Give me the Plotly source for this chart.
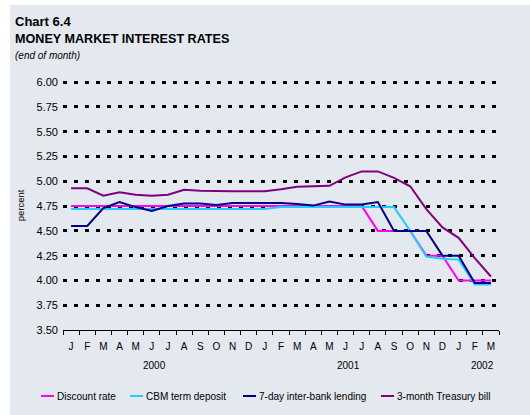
import plotly.graph_objects as go

# ---- data ----
month_labels = ["J", "F", "M", "A", "M", "J", "J", "A", "S", "O", "N", "D",
                "J", "F", "M", "A", "M", "J", "J", "A", "S", "O", "N", "D",
                "J", "F", "M"]
year_labels = ["2000", "2001", "2002"]
year_label_pos = [5.15, 17.2, 25.5]

discount_rate = [4.75, 4.75, 4.75, 4.75, 4.75, 4.75, 4.75, 4.75, 4.75, 4.75,
                 4.75, 4.75, 4.75, 4.75, 4.75, 4.75, 4.75, 4.75, 4.75, 4.50,
                 4.50, 4.50, 4.25, 4.25, 4.00, 4.00, 4.00]
cbm_term_deposit = [4.72, 4.72, 4.72, 4.72, 4.72, 4.72, 4.72, 4.72, 4.72, 4.72,
                    4.72, 4.72, 4.72, 4.74, 4.74, 4.74, 4.74, 4.74, 4.74, 4.74,
                    4.74, 4.50, 4.24, 4.22, 4.21, 3.96, 3.96]
interbank_7day = [4.55, 4.55, 4.73, 4.79, 4.74, 4.70, 4.75, 4.775, 4.775, 4.76,
                  4.78, 4.78, 4.78, 4.78, 4.77, 4.755, 4.795, 4.765, 4.765, 4.79,
                  4.50, 4.50, 4.50, 4.25, 4.25, 3.975, 3.975]
tbill_3m = [4.93, 4.93, 4.855, 4.89, 4.865, 4.855, 4.865, 4.915, 4.905, 4.90,
            4.90, 4.90, 4.90, 4.92, 4.945, 4.95, 4.955, 5.04, 5.10, 5.10,
            5.035, 4.95, 4.72, 4.535, 4.43, 4.225, 4.04]

series_names = ["Discount rate", "CBM term deposit", "7-day inter-bank lending",
                "3-month Treasury bill"]
series_colors = ["#FF00FF", "#22CCFF", "#000080", "#800080"]
series_values = [discount_rate, cbm_term_deposit, interbank_7day, tbill_3m]

y_ticks = [3.50, 3.75, 4.00, 4.25, 4.50, 4.75, 5.00, 5.25, 5.50, 5.75, 6.00]

# ---- layout geometry ----
W, H = 530, 415
L, R, T, B = 63, 31, 81, 85
PW, PH = W - L - R, H - T - B
FONT = "Liberation Sans, Arial, sans-serif"
BG = "#E4E8EF"

def px_x(px):
    return (px - L) / PW

def px_y(py):
    return (H - B - py) / PH

x_idx = list(range(len(month_labels)))

fig = go.Figure()
for name, color, vals in zip(series_names, series_colors, series_values):
    fig.add_trace(go.Scatter(
        x=x_idx, y=vals, mode="lines", name=name,
        line=dict(color=color, width=2),
        hoverinfo="skip", showlegend=False,
    ))

annotations = [
    dict(text="<b>Chart 6.4</b>", x=px_x(13), y=px_y(22), xref="paper", yref="paper",
         xanchor="left", yanchor="middle", showarrow=False,
         font=dict(family=FONT, size=13, color="black")),
    dict(text="<b>MONEY MARKET INTEREST RATES</b>", x=px_x(13), y=px_y(39.5),
         xref="paper", yref="paper", xanchor="left", yanchor="middle",
         showarrow=False, font=dict(family=FONT, size=12.6, color="black")),
    dict(text="<i>(end of month)</i>", x=px_x(13), y=px_y(55), xref="paper",
         yref="paper", xanchor="left", yanchor="middle", showarrow=False,
         font=dict(family=FONT, size=10, color="black")),
]
for lab, pos in zip(year_labels, year_label_pos):
    annotations.append(dict(text=lab, x=pos, y=px_y(365), xref="x", yref="paper",
                            xanchor="center", yanchor="middle", showarrow=False,
                            font=dict(family=FONT, size=10, color="black")))

# manual legend (short line samples, as in the reference)
legend_line_x = [41, 130, 243, 381]
legend_y = 396
shapes = [dict(type="rect", xref="paper", yref="paper",
               x0=px_x(10), x1=px_x(W + 5), y0=px_y(H + 5), y1=px_y(5),
               fillcolor=BG, line=dict(width=0), layer="below")]
for name, color, lx in zip(series_names, series_colors, legend_line_x):
    shapes.append(dict(type="line", xref="paper", yref="paper",
                       x0=px_x(lx), x1=px_x(lx + 13), y0=px_y(legend_y),
                       y1=px_y(legend_y), line=dict(color=color, width=2)))
    annotations.append(dict(text=name, x=px_x(lx + 14), y=px_y(legend_y),
                            xref="paper", yref="paper", xanchor="left",
                            yanchor="middle", showarrow=False,
                            font=dict(family=FONT, size=10, color="black")))

fig.update_layout(
    width=W, height=H,
    margin=dict(l=L, r=R, t=T, b=B, pad=0),
    paper_bgcolor="white",
    plot_bgcolor="rgba(0,0,0,0)",
    font=dict(family=FONT, size=10, color="black"),
    showlegend=False,
    annotations=annotations,
    shapes=shapes,
    xaxis=dict(
        range=[-0.5, len(month_labels) - 0.5],
        tickmode="array", tickvals=x_idx, ticktext=month_labels,
        ticks="", showgrid=False, zeroline=False,
        showline=True, linecolor="black", linewidth=1,
        ticklabelstandoff=7,
        tickfont=dict(family=FONT, size=10, color="black"),
        minor=dict(tickmode="linear", tick0=-0.5, dtick=1, ticks="outside",
                   ticklen=4, tickcolor="black", tickwidth=1, showgrid=False),
        fixedrange=True,
    ),
    yaxis=dict(
        range=[3.5, 6.012],
        tickmode="array", tickvals=y_ticks,
        tickformat=".2f", ticks="", showline=False, zeroline=False,
        showgrid=True, gridcolor="black", gridwidth=3, griddash="4px,7px",
        ticklabelstandoff=4,
        tickfont=dict(family=FONT, size=11, color="black"),
        title=dict(text="percent", standoff=10,
                   font=dict(family=FONT, size=9.5, color="black")),
        fixedrange=True,
    ),
)

fig.write_html("out.html", config={"displayModeBar": False, "staticPlot": True},
               post_script="document.body.style.margin='0';")
